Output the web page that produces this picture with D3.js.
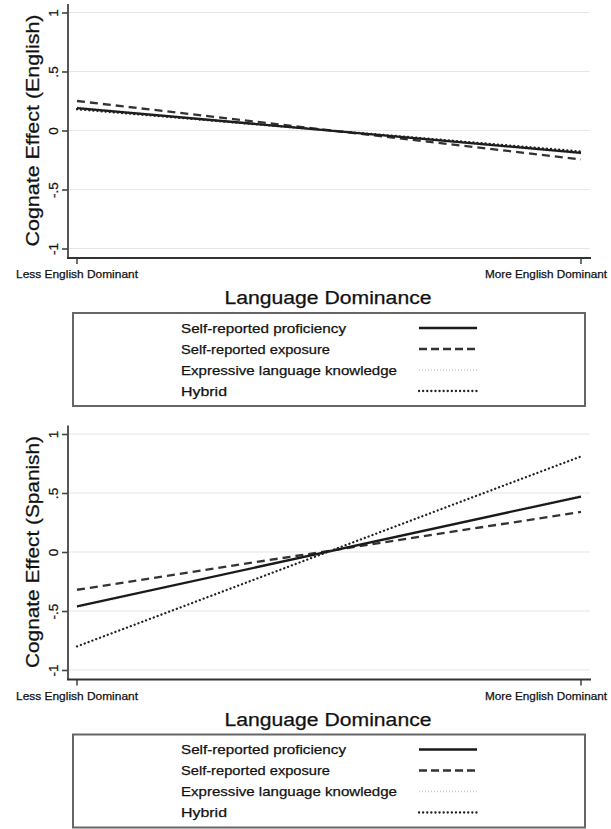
<!DOCTYPE html>
<html>
<head>
<meta charset="utf-8">
<script src="https://cdn.jsdelivr.net/npm/d3@7/dist/d3.min.js"></script>
<style>
  html, body { margin: 0; padding: 0; background: #fff; }
  svg { display: block; font-family: "Liberation Sans", Arial, Helvetica, sans-serif; }
  text { stroke: #111; stroke-width: 0.25; }
</style>
</head>
<body>
<svg id="chart" width="611" height="829"></svg>
<script>
// Predicted cognate effect at the two ends of language dominance
const categories = ["Less English Dominant", "More English Dominant"];
const seriesNames = ["Self-reported proficiency", "Self-reported exposure", "Expressive language knowledge", "Hybrid"];
const yTicks = [-1, -0.5, 0, 0.5, 1];
const yTickLabels = ["-1", "-.5", "0", ".5", "1"];

const englishProficiency = [0.19, -0.19];
const englishExposure = [0.25, -0.245];
const englishExpressive = [0.20, -0.20];
const englishHybrid = [0.18, -0.178];

const spanishProficiency = [-0.46, 0.47];
const spanishExposure = [-0.32, 0.34];
const spanishExpressive = [-0.47, 0.48];
const spanishHybrid = [-0.80, 0.81];

// line styles per measure
const styles = [
  { stroke: "#1a1a1a", width: 2.3, dash: null, cap: "butt" },
  { stroke: "#333", width: 2.3, dash: "8,5", cap: "butt" },
  { stroke: "#c8c8c8", width: 1.5, dash: "1,2", cap: "butt" },
  { stroke: "#222", width: 2.3, dash: "0.1,4", cap: "round" }
];

const svg = d3.select("#chart");
const x = d3.scalePoint().domain(categories).range([77, 581]);

function drawPanel(top, yTitle, values) {
  const g = svg.append("g");
  const y = d3.scaleLinear().domain([-1, 1]).range([top + 236, top]);
  const axisBottomY = y(-1) + 9.5;

  // gridlines
  g.append("g").selectAll("line").data(yTicks).join("line")
    .attr("x1", 68).attr("x2", 590)
    .attr("y1", d => y(d)).attr("y2", d => y(d))
    .attr("stroke", "#e6e6e6").attr("stroke-width", 1.2);

  // y axis
  const ya = g.append("g").attr("transform", "translate(68,0)")
    .call(d3.axisLeft(y).tickValues(yTicks).tickSize(6).tickPadding(10)
      .tickFormat((d, i) => yTickLabels[i]));
  ya.select(".domain").remove();
  ya.selectAll(".tick line").attr("stroke", "#444").attr("stroke-width", 1.6);
  ya.selectAll(".tick text")
    .attr("transform", "rotate(-90)")
    .attr("x", 0).attr("y", -15)
    .attr("dy", "0.35em")
    .attr("text-anchor", "middle")
    .attr("font-size", 13.5).attr("fill", "#111");
  g.append("line").attr("x1", 68).attr("x2", 68)
    .attr("y1", y(1) - 8.5).attr("y2", axisBottomY)
    .attr("stroke", "#444").attr("stroke-width", 1.8);

  // x axis
  g.append("line").attr("x1", 67).attr("x2", 591)
    .attr("y1", axisBottomY).attr("y2", axisBottomY)
    .attr("stroke", "#333").attr("stroke-width", 1.8);
  g.append("g").selectAll("line").data(categories).join("line")
    .attr("x1", d => x(d)).attr("x2", d => x(d))
    .attr("y1", axisBottomY).attr("y2", axisBottomY + 6)
    .attr("stroke", "#333").attr("stroke-width", 1.4);
  g.append("g").selectAll("text").data(categories).join("text")
    .attr("x", (d, i) => i === 0 ? x(d) : 607)
    .attr("y", axisBottomY + 20)
    .attr("text-anchor", (d, i) => i === 0 ? "middle" : "end")
    .attr("font-size", 11).attr("fill", "#111")
    .attr("textLength", 122).attr("lengthAdjust", "spacingAndGlyphs")
    .text(d => d);

  // y title
  g.append("text")
    .attr("transform", `translate(39,${y(0)}) rotate(-90)`)
    .attr("text-anchor", "middle")
    .attr("font-size", 19).attr("fill", "#111")
    .attr("textLength", 232).attr("lengthAdjust", "spacingAndGlyphs")
    .text(yTitle);

  // x title
  g.append("text")
    .attr("x", 328).attr("y", axisBottomY + 46)
    .attr("text-anchor", "middle")
    .attr("font-size", 18).attr("fill", "#111")
    .attr("textLength", 207).attr("lengthAdjust", "spacingAndGlyphs")
    .text("Language Dominance");

  // lines
  const line = d3.line().x((d, i) => x(categories[i])).y(d => y(d));
  [2, 1, 0, 3].forEach(k => {
    const s = styles[k];
    g.append("path").datum(values[k])
      .attr("d", line)
      .attr("fill", "none")
      .attr("stroke", s.stroke)
      .attr("stroke-width", s.width)
      .attr("stroke-dasharray", s.dash)
      .attr("stroke-linecap", s.cap);
  });

  // legend
  const boxTop = axisBottomY + 55;
  g.append("rect").attr("x", 73).attr("y", boxTop)
    .attr("width", 512).attr("height", 93)
    .attr("fill", "#fff").attr("stroke", "#666").attr("stroke-width", 2);
  const rows = g.append("g").selectAll("g").data(seriesNames).join("g")
    .attr("transform", (d, i) => `translate(0,${boxTop + 15 + i * 21})`);
  const labelWidths = [165, 149, 216, 46];
  rows.append("text")
    .attr("x", 181).attr("y", 0).attr("dy", "0.35em")
    .attr("font-size", 13.5).attr("fill", "#111")
    .attr("textLength", (d, i) => labelWidths[i]).attr("lengthAdjust", "spacingAndGlyphs")
    .text(d => d);
  rows.append("line")
    .attr("x1", 419).attr("x2", 477).attr("y1", 0).attr("y2", 0)
    .attr("stroke", (d, i) => styles[i].stroke)
    .attr("stroke-width", (d, i) => styles[i].width)
    .attr("stroke-dasharray", (d, i) => i === 1 ? "8,4" : styles[i].dash)
    .attr("stroke-linecap", (d, i) => styles[i].cap);
}

drawPanel(12.5, "Cognate Effect (English)",
  [englishProficiency, englishExposure, englishExpressive, englishHybrid]);
drawPanel(434, "Cognate Effect (Spanish)",
  [spanishProficiency, spanishExposure, spanishExpressive, spanishHybrid]);
</script>
</body>
</html>
